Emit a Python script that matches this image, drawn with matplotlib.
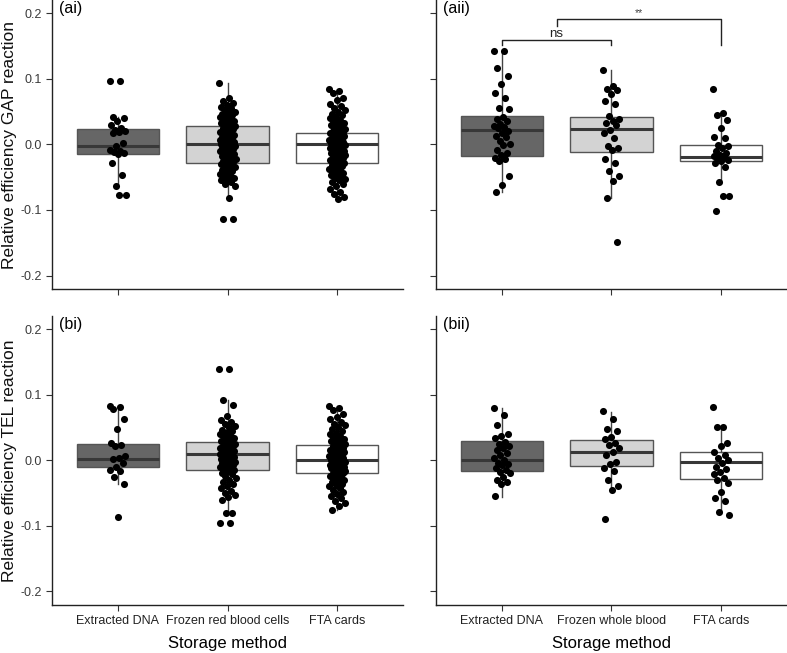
import numpy as np
import matplotlib
matplotlib.use("Agg")
import matplotlib.pyplot as plt

plt.rcParams["font.family"] = ["Liberation Sans", "DejaVu Sans"]

# storage methods shown under each column of panels
methods_i = ["Extracted DNA", "Frozen red blood cells", "FTA cards"]
methods_ii = ["Extracted DNA", "Frozen whole blood", "FTA cards"]
box_colors = ["#666666", "#D3D3D3", "#FFFFFF"]

yticks = [-0.2, -0.1, 0.0, 0.1, 0.2]
ytick_labels = ["-0.2", "-0.1", "0.0", "0.1", "0.2"]

# ---- (ai) GAP reaction, study i ----
ai_ext = [0.097, 0.097, 0.042, 0.040, 0.036, 0.030, 0.025, 0.022, 0.020, 0.019, 0.018,
          0.002, -0.002, -0.008, -0.010, -0.012, -0.014, -0.015, -0.029, -0.047, -0.063,
          -0.078, -0.078]
ai_frbc = [0.094, 0.070, 0.066, 0.063, 0.060, 0.057, 0.055, 0.052, 0.050, 0.048, 0.046,
           0.044, 0.043, 0.041, 0.040, 0.038, 0.036, 0.034, 0.033, 0.031, 0.030, 0.028,
           0.027, 0.025, 0.023, 0.021, 0.019, 0.018, 0.016, 0.014, 0.013, 0.011, 0.010,
           0.008, 0.007, 0.005, 0.004, 0.003, 0.002, 0.001, 0.000, -0.001, -0.003, -0.004,
           -0.006, -0.007, -0.009, -0.010, -0.012, -0.013, -0.015, -0.016, -0.018, -0.019,
           -0.021, -0.022, -0.024, -0.025, -0.027, -0.028, -0.030, -0.031, -0.033, -0.035,
           -0.037, -0.039, -0.041, -0.043, -0.045, -0.047, -0.049, -0.051, -0.053, -0.055,
           -0.057, -0.060, -0.063, -0.082, -0.114, -0.114]
ai_fta = [0.084, 0.082, 0.078, 0.070, 0.068, 0.062, 0.058, 0.055, 0.052, 0.049, 0.046,
          0.044, 0.042, 0.040, 0.037, 0.035, 0.033, 0.031, 0.029, 0.027, 0.026, 0.024,
          0.022, 0.021, 0.019, 0.018, 0.017, 0.015, 0.014, 0.013, 0.011, 0.010, 0.009,
          0.008, 0.007, 0.006, 0.005, 0.004, 0.003, 0.002, 0.001, 0.000, -0.001, -0.002,
          -0.003, -0.004, -0.005, -0.006, -0.008, -0.009, -0.010, -0.011, -0.013, -0.014,
          -0.015, -0.017, -0.018, -0.019, -0.021, -0.022, -0.024, -0.025, -0.026, -0.028,
          -0.030, -0.031, -0.033, -0.035, -0.037, -0.039, -0.041, -0.043, -0.045, -0.047,
          -0.049, -0.051, -0.053, -0.055, -0.058, -0.061, -0.064, -0.068, -0.072, -0.076,
          -0.080, -0.083]
ai_q1 = [-0.0145, -0.028, -0.028]
ai_med = [-0.0033, 0.001, 0.000]
ai_q3 = [0.024, 0.028, 0.018]
ai_lo = [-0.063, -0.082, -0.082]
ai_hi = [0.042, 0.094, 0.082]

# ---- (aii) GAP reaction, study ii ----
aii_ext = [0.1415, 0.1415, 0.117, 0.1035, 0.092, 0.078, 0.0705, 0.056, 0.054, 0.0415,
           0.039, 0.035, 0.031, 0.028, 0.026, 0.025, 0.021, 0.018, 0.012, 0.0105, 0.005,
           0.0005, -0.001, -0.008, -0.014, -0.017, -0.021, -0.0225, -0.026, -0.049,
           -0.0617, -0.073]
aii_fwb = [0.114, 0.089, 0.084, 0.083, 0.0765, 0.066, 0.061, 0.0425, 0.0385, 0.035,
           0.032, 0.030, 0.022, 0.018, 0.010, -0.003, -0.006, -0.008, -0.0225, -0.0287,
           -0.040, -0.049, -0.0566, -0.082, -0.149]
aii_fta = [0.085, 0.048, 0.045, 0.0364, 0.025, 0.011, 0.0095, -0.0017, -0.003, -0.006,
           -0.010, -0.0134, -0.016, -0.018, -0.020, -0.021, -0.0236, -0.025, -0.0287,
           -0.034, -0.057, -0.0785, -0.0785, -0.1015]
aii_q1 = [-0.018, -0.0114, -0.025]
aii_med = [0.022, 0.0226, -0.0186]
aii_q3 = [0.0424, 0.0415, -0.0018]
aii_lo = [-0.073, -0.082, -0.059]
aii_hi = [0.1415, 0.114, 0.048]

# ---- (bi) TEL reaction, study i ----
bi_ext = [0.083, 0.081, 0.078, 0.0625, 0.048, 0.027, 0.023, 0.021, 0.0066, 0.003,
          0.002, -0.0046, -0.010, -0.015, -0.017, -0.025, -0.036, -0.086]
bi_frbc = [0.139, 0.139, 0.092, 0.085, 0.068, 0.062, 0.058, 0.055, 0.052, 0.049, 0.046,
           0.044, 0.042, 0.040, 0.038, 0.036, 0.034, 0.032, 0.030, 0.028, 0.027, 0.025,
           0.024, 0.022, 0.021, 0.019, 0.018, 0.017, 0.015, 0.014, 0.013, 0.012, 0.011,
           0.010, 0.009, 0.008, 0.006, 0.005, 0.004, 0.002, 0.001, -0.001, -0.002, -0.004,
           -0.005, -0.007, -0.008, -0.010, -0.012, -0.013, -0.015, -0.017, -0.019, -0.021,
           -0.024, -0.027, -0.030, -0.033, -0.036, -0.040, -0.043, -0.047, -0.050, -0.053,
           -0.056, -0.060, -0.080, -0.080, -0.096, -0.096]
bi_fta = [0.083, 0.080, 0.076, 0.070, 0.066, 0.063, 0.059, 0.056, 0.053, 0.050, 0.047,
          0.045, 0.042, 0.040, 0.037, 0.035, 0.033, 0.031, 0.029, 0.027, 0.025, 0.024,
          0.022, 0.021, 0.019, 0.018, 0.016, 0.015, 0.013, 0.012, 0.011, 0.009, 0.008,
          0.007, 0.006, 0.005, 0.004, 0.003, 0.002, 0.001, 0.000, -0.001, -0.002, -0.003,
          -0.004, -0.005, -0.006, -0.007, -0.008, -0.009, -0.010, -0.011, -0.012, -0.014,
          -0.015, -0.016, -0.017, -0.019, -0.020, -0.022, -0.024, -0.026, -0.028, -0.030,
          -0.032, -0.034, -0.036, -0.038, -0.040, -0.043, -0.046, -0.049, -0.052, -0.055,
          -0.058, -0.062, -0.066, -0.070, -0.076]
bi_q1 = [-0.0107, -0.0153, -0.0194]
bi_med = [0.002, 0.0096, 0.000]
bi_q3 = [0.0253, 0.028, 0.0238]
bi_lo = [-0.0366, -0.080, -0.076]
bi_hi = [0.082, 0.092, 0.083]

# ---- (bii) TEL reaction, study ii ----
bii_ext = [0.080, 0.069, 0.054, 0.040, 0.037, 0.0335, 0.028, 0.025, 0.022, 0.018, 0.015,
           0.011, 0.008, 0.004, 0.0005, -0.0036, -0.006, -0.008, -0.012, -0.015, -0.018,
           -0.020, -0.025, -0.030, -0.033, -0.036, -0.055]
bii_fwb = [0.0757, 0.063, 0.047, 0.044, 0.036, 0.032, 0.027, 0.023, 0.018, 0.013, 0.008,
           -0.002, -0.006, -0.012, -0.017, -0.030, -0.040, -0.045, -0.089]
bii_fta = [0.081, 0.051, 0.051, 0.026, 0.021, 0.013, 0.008, 0.004, 0.0005, -0.005, -0.010,
           -0.014, -0.018, -0.021, -0.027, -0.030, -0.035, -0.048, -0.058, -0.063, -0.079,
           -0.083]
bii_q1 = [-0.0158, -0.0087, -0.0285]
bii_med = [0.0005, 0.0127, -0.002]
bii_q3 = [0.029, 0.0305, 0.0127]
bii_lo = [-0.056, -0.045, -0.080]
bii_hi = [0.080, 0.074, 0.052]


def jitter(n, width=0.15):
    # fixed, evenly spread offsets in place of ggplot's random jitter
    return ((np.arange(n) * 0.618034) % 1 - 0.5) * width


def draw_panel(ax, groups, q1, med, q3, lo, hi, label):
    stats = []
    for i in range(3):
        stats.append({"q1": q1[i], "med": med[i], "q3": q3[i],
                      "whislo": lo[i], "whishi": hi[i], "fliers": []})
    bp = ax.bxp(stats, positions=[1, 2, 3], widths=0.75, patch_artist=True,
                showfliers=False, showcaps=False,
                boxprops=dict(edgecolor="#555555", linewidth=1.0),
                whiskerprops=dict(color="#444444", linewidth=1.0),
                medianprops=dict(color="#383838", linewidth=2.2))
    for patch, c in zip(bp["boxes"], box_colors):
        patch.set_facecolor(c)
    for i, vals in enumerate(groups):
        x = (i + 1) + jitter(len(vals))
        ax.scatter(x, vals, s=26, color="black", zorder=5, linewidths=0)

    ax.set_xlim(0.4, 3.6)
    ax.set_ylim(-0.221, 0.22)
    ax.set_yticks(yticks)
    ax.set_xticks([1, 2, 3])
    for side in ["top", "right"]:
        ax.spines[side].set_visible(False)
    for side in ["left", "bottom"]:
        ax.spines[side].set_linewidth(1.0)
        ax.spines[side].set_color("#222222")
    ax.tick_params(length=4, width=0.8, color="#333333", labelsize=9,
                   labelcolor="#3a3a3a")
    ax.text(0.02, 0.995, label, transform=ax.transAxes, ha="left", va="top",
            fontsize=11.5)


fig = plt.figure(figsize=(7.87, 6.53), dpi=100)

ax_ai = fig.add_axes([0.0661, 0.557, 0.446, 0.443])
ax_aii = fig.add_axes([0.554, 0.557, 0.446, 0.443])
ax_bi = fig.add_axes([0.0661, 0.0735, 0.446, 0.4425])
ax_bii = fig.add_axes([0.554, 0.0735, 0.446, 0.4425])

draw_panel(ax_ai, [ai_ext, ai_frbc, ai_fta], ai_q1, ai_med, ai_q3, ai_lo, ai_hi, "(ai)")
draw_panel(ax_aii, [aii_ext, aii_fwb, aii_fta], aii_q1, aii_med, aii_q3, aii_lo, aii_hi, "(aii)")
draw_panel(ax_bi, [bi_ext, bi_frbc, bi_fta], bi_q1, bi_med, bi_q3, bi_lo, bi_hi, "(bi)")
draw_panel(ax_bii, [bii_ext, bii_fwb, bii_fta], bii_q1, bii_med, bii_q3, bii_lo, bii_hi, "(bii)")

ax_ai.set_yticklabels(ytick_labels)
ax_bi.set_yticklabels(ytick_labels)
ax_aii.set_yticklabels([])
ax_bii.set_yticklabels([])
ax_ai.set_xticklabels([])
ax_aii.set_xticklabels([])
ax_bi.set_xticklabels(methods_i, color="#222222")
ax_bii.set_xticklabels(methods_ii, color="#222222")

# y labels placed by hand so they sit right at the left edge like the original
fig.text(0.0115, 0.557 + 0.443 / 2, "Relative efficiency GAP reaction", rotation=90,
         ha="center", va="center", fontsize=12.5, color="#111111")
fig.text(0.0115, 0.0735 + 0.4425 / 2, "Relative efficiency TEL reaction", rotation=90,
         ha="center", va="center", fontsize=12.5, color="#111111")
ax_bi.set_xlabel("Storage method", fontsize=12, labelpad=6)
ax_bii.set_xlabel("Storage method", fontsize=12, labelpad=6)

# significance brackets on (aii)
ax_aii.plot([1, 1, 2, 2], [0.151, 0.159, 0.159, 0.151], color="#222222", lw=1.0)
ax_aii.text(1.5, 0.159, "ns", ha="center", va="bottom", fontsize=9.5, color="#222222")
ax_aii.plot([1.5, 1.5, 3, 3], [0.18, 0.191, 0.191, 0.151], color="#222222", lw=1.0)
ax_aii.text(2.25, 0.193, "**", ha="center", va="bottom", fontsize=7.5, color="#444444")

fig.savefig("out.png", dpi=100)
